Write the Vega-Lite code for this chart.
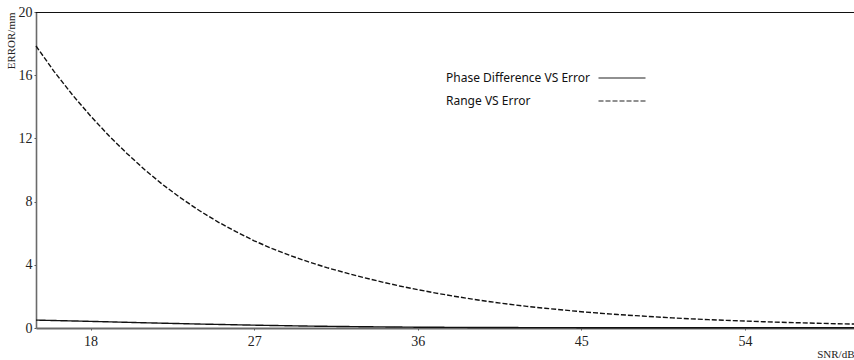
{
  "$schema": "https://vega.github.io/schema/vega-lite/v6.json",
  "width": 818,
  "height": 316,
  "autosize": {"type": "none"},
  "padding": {"left": 36, "top": 12, "right": 0, "bottom": 32},
  "background": "white",
  "config": {
    "view": {"stroke": null},
    "axis": {"grid": false, "labelFont": "Liberation Serif", "titleFont": "Liberation Serif", "labelColor": "#222", "titleColor": "#222", "domainColor": "#6a6a6a", "tickColor": "#555"}
  },
  "data": {"values": [
    {"snr": 15, "error": 17.85, "series": "Range VS Error"},
    {"snr": 16, "error": 16.23, "series": "Range VS Error"},
    {"snr": 17, "error": 14.76, "series": "Range VS Error"},
    {"snr": 18, "error": 13.42, "series": "Range VS Error"},
    {"snr": 19, "error": 12.18, "series": "Range VS Error"},
    {"snr": 20, "error": 11.05, "series": "Range VS Error"},
    {"snr": 21, "error": 10.0, "series": "Range VS Error"},
    {"snr": 22, "error": 9.05, "series": "Range VS Error"},
    {"snr": 23, "error": 8.2, "series": "Range VS Error"},
    {"snr": 24, "error": 7.42, "series": "Range VS Error"},
    {"snr": 25, "error": 6.72, "series": "Range VS Error"},
    {"snr": 26, "error": 6.1, "series": "Range VS Error"},
    {"snr": 27, "error": 5.52, "series": "Range VS Error"},
    {"snr": 28, "error": 5.02, "series": "Range VS Error"},
    {"snr": 29, "error": 4.58, "series": "Range VS Error"},
    {"snr": 30, "error": 4.18, "series": "Range VS Error"},
    {"snr": 31, "error": 3.82, "series": "Range VS Error"},
    {"snr": 32, "error": 3.5, "series": "Range VS Error"},
    {"snr": 33, "error": 3.2, "series": "Range VS Error"},
    {"snr": 34, "error": 2.92, "series": "Range VS Error"},
    {"snr": 35, "error": 2.66, "series": "Range VS Error"},
    {"snr": 36, "error": 2.43, "series": "Range VS Error"},
    {"snr": 37, "error": 2.21, "series": "Range VS Error"},
    {"snr": 38, "error": 2.01, "series": "Range VS Error"},
    {"snr": 39, "error": 1.83, "series": "Range VS Error"},
    {"snr": 40, "error": 1.66, "series": "Range VS Error"},
    {"snr": 41, "error": 1.51, "series": "Range VS Error"},
    {"snr": 42, "error": 1.37, "series": "Range VS Error"},
    {"snr": 43, "error": 1.25, "series": "Range VS Error"},
    {"snr": 44, "error": 1.14, "series": "Range VS Error"},
    {"snr": 45, "error": 1.03, "series": "Range VS Error"},
    {"snr": 46, "error": 0.94, "series": "Range VS Error"},
    {"snr": 47, "error": 0.85, "series": "Range VS Error"},
    {"snr": 48, "error": 0.78, "series": "Range VS Error"},
    {"snr": 49, "error": 0.71, "series": "Range VS Error"},
    {"snr": 50, "error": 0.64, "series": "Range VS Error"},
    {"snr": 51, "error": 0.58, "series": "Range VS Error"},
    {"snr": 52, "error": 0.53, "series": "Range VS Error"},
    {"snr": 53, "error": 0.48, "series": "Range VS Error"},
    {"snr": 54, "error": 0.44, "series": "Range VS Error"},
    {"snr": 55, "error": 0.40, "series": "Range VS Error"},
    {"snr": 56, "error": 0.36, "series": "Range VS Error"},
    {"snr": 57, "error": 0.33, "series": "Range VS Error"},
    {"snr": 58, "error": 0.30, "series": "Range VS Error"},
    {"snr": 59, "error": 0.27, "series": "Range VS Error"},
    {"snr": 60, "error": 0.25, "series": "Range VS Error"},
    {"snr": 15, "error": 0.50, "series": "Phase Difference VS Error"},
    {"snr": 18, "error": 0.42, "series": "Phase Difference VS Error"},
    {"snr": 21, "error": 0.33, "series": "Phase Difference VS Error"},
    {"snr": 24, "error": 0.25, "series": "Phase Difference VS Error"},
    {"snr": 27, "error": 0.18, "series": "Phase Difference VS Error"},
    {"snr": 30, "error": 0.12, "series": "Phase Difference VS Error"},
    {"snr": 33, "error": 0.08, "series": "Phase Difference VS Error"},
    {"snr": 36, "error": 0.05, "series": "Phase Difference VS Error"},
    {"snr": 40, "error": 0.03, "series": "Phase Difference VS Error"},
    {"snr": 45, "error": 0.02, "series": "Phase Difference VS Error"},
    {"snr": 50, "error": 0.02, "series": "Phase Difference VS Error"},
    {"snr": 55, "error": 0.02, "series": "Phase Difference VS Error"},
    {"snr": 60, "error": 0.02, "series": "Phase Difference VS Error"}
  ]},
  "layer": [
    {
      "mark": {"type": "rule", "color": "#111", "strokeWidth": 1, "yOffset": 0.5},
      "encoding": {"y": {"datum": 20, "type": "quantitative"}}
    },
    {
      "mark": {"type": "line", "strokeWidth": 1.4, "color": "#111"},
      "encoding": {
        "x": {"field": "snr", "type": "quantitative", "scale": {"domain": [15, 60], "nice": false},
          "axis": {"values": [18, 27, 36, 45, 54], "title": "SNR/dB", "titleAnchor": "end", "titleFontSize": 11, "titleFontWeight": "normal", "titlePadding": 0, "labelFontSize": 14, "tickSize": 2, "labelPadding": 4, "domainWidth": 2}},
        "y": {"field": "error", "type": "quantitative", "scale": {"domain": [0, 20], "nice": false},
          "axis": {"values": [0, 4, 8, 12, 16, 20], "title": "ERROR/mm", "titleAnchor": "end", "titleFontSize": 11, "titleFontWeight": "normal", "titlePadding": 2, "labelFontSize": 14, "tickSize": 2, "labelPadding": 2, "domainWidth": 1.6}},
        "strokeDash": {"field": "series", "type": "nominal",
          "scale": {"domain": ["Phase Difference VS Error", "Range VS Error"], "range": [[1, 0], [5, 2]]},
          "legend": {"orient": "none", "legendX": 580, "legendY": 60, "title": null, "symbolType": "M-4.7,0H4.7", "symbolSize": 100, "symbolStrokeWidth": 1.2, "symbolStrokeColor": "#222", "symbolFillColor": "transparent", "labelFont": "Noto Sans", "labelFontSize": 12, "labelColor": "#111", "labelAlign": "left", "labelOffset": -182, "rowPadding": 11, "padding": 0, "labelLimit": 300}}
      }
    }
  ]
}
